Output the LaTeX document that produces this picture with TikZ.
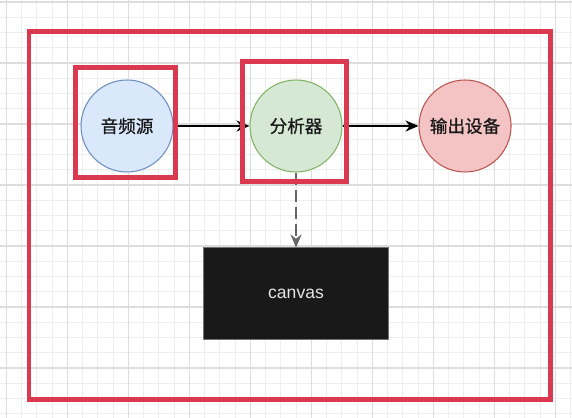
\documentclass[tikz,border=0pt]{standalone}
\usepackage{xcolor}
\usepackage{fontspec}
\setsansfont{Liberation Sans}
\newfontfamily\cjk[UprightFeatures={FakeBold=0.8}]{Noto Sans CJK SC}
\usepackage{tikz}
\usetikzlibrary{arrows.meta, positioning}
\definecolor{srcblue}{HTML}{DAE8FC}
\definecolor{srcline}{HTML}{6C8EBF}
\definecolor{anagreen}{HTML}{D5E8D4}
\definecolor{analine}{HTML}{82B366}
\definecolor{outred}{HTML}{F4C4C4}
\definecolor{outline}{HTML}{B85450}
\definecolor{markred}{RGB}{218,57,79}
\definecolor{gridminor}{HTML}{EEEEEE}
\definecolor{gridmajor}{HTML}{DDDDDD}
\definecolor{inkgray}{HTML}{666666}

\begin{document}
\begin{tikzpicture}[
    x=0.02cm, y=-0.02cm,
    node distance=1.52cm,
    every node/.style={font=\fontsize{10}{12}\selectfont},
    unit/.style={circle, draw, line width=0.6pt, minimum size=1.84cm, inner sep=0pt, text=black!90, font=\cjk\fontsize{10}{12}\selectfont},
    screen/.style={rectangle, draw=black!55, fill=black!90, line width=0.4pt, minimum width=3.7cm, minimum height=1.84cm, text=white!90!black, font=\sffamily\fontsize{10}{12}\selectfont},
    flow/.style={-{Stealth[length=0.26cm, width=0.22cm]}, line width=1pt},
    marker/.style={draw=markred, line width=0.1cm}
]
% background and grid
\fill[white] (0,0) rectangle (572,418);
\useasboundingbox (0,0) rectangle (572,418);
\foreach \i in {0,...,37}
    \draw[gridminor, line width=0.5pt] ({6.25+15.25*\i},0) -- ++(0,418);
\foreach \j in {0,...,27}
    \draw[gridminor, line width=0.5pt] (0,{2+15.25*\j}) -- ++(572,0);
\foreach \i in {0,...,9}
    \draw[gridmajor, line width=0.6pt] ({6.25+61*\i},0) -- ++(0,418);
\foreach \j in {0,...,6}
    \draw[gridmajor, line width=0.6pt] (0,{2+61*\j}) -- ++(572,0);

% nodes
\node[unit, fill=srcblue, draw=srcline] (source) at (127,126) {音频源};
\node[unit, fill=anagreen, draw=analine, right=of source] (analyser) {分析器};
\node[unit, fill=outred, draw=outline, right=of analyser] (output) {输出设备};
\node[screen, below=1.5cm of analyser] (canvas) {canvas};

% connections
\draw[flow] (source) -- (analyser);
\draw[flow] (analyser) -- (output);
\draw[flow, inkgray, dash pattern=on 0.24cm off 0.1cm] (analyser) -- (canvas);

% highlight boxes
\draw[marker] (75,68) rectangle (175,177.5);
\draw[marker] (242,62) rectangle (346.5,181.5);
\draw[marker] (29,32) rectangle (550,400);
\end{tikzpicture}
\end{document}
